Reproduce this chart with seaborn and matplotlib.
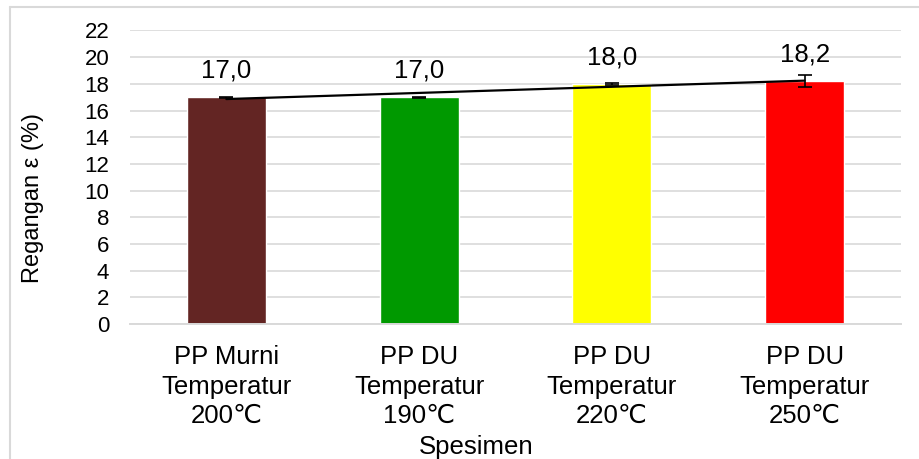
import numpy as np
import pandas as pd
import matplotlib
matplotlib.use('Agg')
import matplotlib.pyplot as plt
from matplotlib.lines import Line2D
import seaborn as sns

# Data
categories = ['PP Murni\nTemperatur\n200\u2103', 'PP DU\nTemperatur\n190\u2103',
              'PP DU\nTemperatur\n220\u2103', 'PP DU\nTemperatur\n250\u2103']
strain = [17.0, 17.0, 18.0, 18.2]
strain_err = [0.05, 0.05, 0.07, 0.43]
bar_colors = ['#632523', '#009900', '#FFFF00', '#FF0000']
y_ticks = list(range(0, 23, 2))

sns.set_style('white')
plt.rcParams['font.family'] = ['Liberation Sans', 'DejaVu Sans']
plt.rcParams['text.color'] = 'black'
plt.rcParams['axes.labelcolor'] = 'black'
plt.rcParams['xtick.color'] = 'black'
plt.rcParams['ytick.color'] = 'black'

df = pd.DataFrame({'Spesimen': categories, 'Regangan': strain})

fig = plt.figure(figsize=(9.2, 4.59), dpi=100)
ax = fig.add_axes([0.1413, 0.2941, 0.8380, 0.6395])

sns.barplot(data=df, x='Spesimen', y='Regangan', hue='Spesimen',
            palette=bar_colors, legend=False, errorbar=None,
            width=0.41, saturation=1, ax=ax, zorder=2)

xpos = np.arange(len(categories))
ax.errorbar(xpos, strain, yerr=strain_err, fmt='none', ecolor='black',
            elinewidth=1.2, capsize=5, capthick=1.2, zorder=4)

# linear trendline (least squares fit of the bar values)
slope, intercept = np.polyfit(xpos, strain, 1)
ax.plot(xpos, slope * xpos + intercept, color='black', lw=1.6, zorder=3)

# data labels with comma decimals
for x, v in zip(xpos, strain):
    ax.annotate(f'{v:.1f}'.replace('.', ','), (x, v), xytext=(0, 19),
                textcoords='offset points', ha='center', va='center',
                fontsize=18.5, color='black')

ax.set_ylim(0, 22)
ax.set_xlim(-0.5, len(categories) - 0.5)
ax.set_yticks(y_ticks)
ax.yaxis.grid(True, color='#d9d9d9', lw=1.2, zorder=0)
ax.set_axisbelow(True)
for s in ['top', 'right', 'left']:
    ax.spines[s].set_visible(False)
ax.spines['bottom'].set_color('#d9d9d9')
ax.spines['bottom'].set_linewidth(1.4)

ax.tick_params(axis='y', length=0, pad=15, labelsize=16)
ax.tick_params(axis='x', length=0, pad=15, labelsize=18.5)
for lbl in ax.get_xticklabels():
    lbl.set_linespacing(1.3)

ax.set_xlabel('Spesimen', fontsize=18.5, va='center')
ax.set_ylabel('Regangan \u03b5 (%)', fontsize=17, va='center')
ax.xaxis.set_label_coords(0.4488, -0.419)
ax.yaxis.set_label_coords(-0.126, 0.43)

# light frame around the chart area
fig.add_artist(Line2D([10 / 920, 1.0], [1 - 7 / 459, 1 - 7 / 459],
                      transform=fig.transFigure, color='#d9d9d9', lw=1.5))
fig.add_artist(Line2D([10 / 920, 10 / 920], [0.0, 1 - 7 / 459],
                      transform=fig.transFigure, color='#d9d9d9', lw=1.5))

fig.savefig('out.png', dpi=100)
